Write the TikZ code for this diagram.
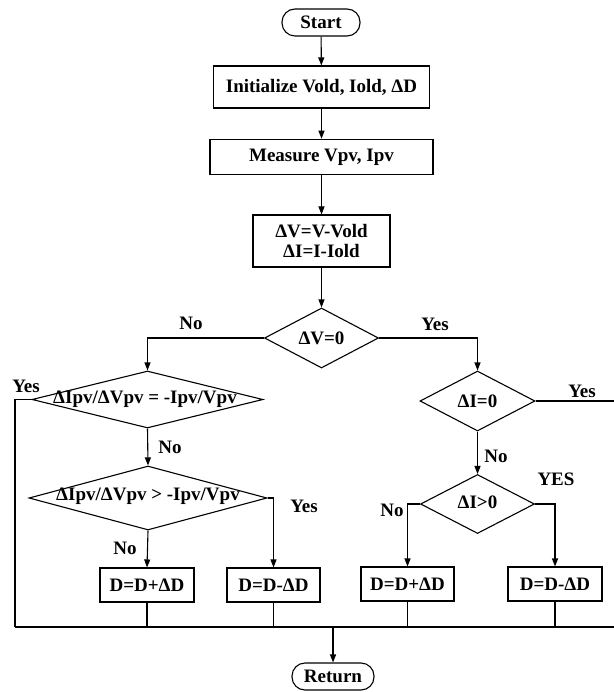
\documentclass[tikz,border=0pt]{standalone}
\usepackage{fontspec}
\setmainfont{Liberation Serif}
\usetikzlibrary{shapes.geometric,arrows.meta}
\begin{document}
\begin{tikzpicture}[x=1pt,y=-1pt,
  every node/.style={font=\fontsize{19}{22}\selectfont\bfseries},
  line/.style={line width=1.1pt},
  arr/.style={line width=1.1pt,-{Triangle[length=8pt,width=6pt]}},
  procbox/.style={draw,line width=1.1pt,rectangle,inner sep=0pt},
  termbox/.style={draw,line width=1.1pt,rectangle,rounded corners=13pt,inner sep=0pt,minimum width=78pt,minimum height=27pt},
  decbox/.style={draw,line width=1.1pt,diamond,inner sep=0pt},
  lbl/.style={inner sep=0pt}
]
\useasboundingbox (0,0) rectangle (613,692);

% terminals and processes
\node[termbox] (start) at (321,22.5) {Start};
\node[procbox,minimum width=216pt,minimum height=42pt] (init) at (321.5,87) {Initialize Vold, Iold, ΔD};
\node[procbox,minimum width=223pt,minimum height=35.5pt] (meas) at (321.5,157) {Measure Vpv, Ipv};
\node[procbox,minimum width=137pt,minimum height=52pt,align=center] (dvbox) at (321.5,241) {ΔV=V-Vold\\[-2pt]ΔI=I-Iold};

% decisions
\node[decbox,minimum width=114pt,minimum height=60pt] (dv0) at (321.5,338) {};
\node[lbl] (dv0t) at (321.5,338) {ΔV=0};
\node[decbox,minimum width=231pt,minimum height=57pt] (d1) at (147.5,399.5) {};
\node[lbl] (d1t) at (145,399.5) {ΔIpv/ΔVpv = -Ipv/Vpv};
\node[decbox,minimum width=238pt,minimum height=64pt] (d2) at (148,498) {};
\node[lbl] (d2t) at (148,496) {ΔIpv/ΔVpv > -Ipv/Vpv};
\node[decbox,minimum width=115pt,minimum height=60pt] (di0) at (477.5,401) {};
\node[lbl] (di0t) at (477.5,401) {ΔI=0};
\node[decbox,minimum width=114pt,minimum height=59pt] (dig) at (477.5,504) {};
\node[lbl] (digt) at (477.5,502) {ΔI>0};

% result boxes
\node[procbox,minimum width=94pt,minimum height=34pt] (l1) at (147,585) {D=D+ΔD};
\node[procbox,minimum width=93pt,minimum height=34pt] (l2) at (273.5,585) {D=D-ΔD};
\node[procbox,minimum width=93pt,minimum height=34pt] (r1) at (407.5,584) {D=D+ΔD};
\node[procbox,minimum width=94pt,minimum height=34pt] (r2) at (555,584) {D=D-ΔD};

\node[termbox,minimum width=82pt] (ret) at (333,676.5) {Return};

% coordinates
\coordinate (bl) at (15,627);
\coordinate (br) at (615,627);
\coordinate (bm) at (333,627);
\coordinate (c1) at (147.5,338);
\coordinate (c2) at (477.5,338);
\coordinate (c3) at (15,399.5);
\coordinate (c4) at (273.5,498);
\coordinate (c5) at (615,401);
\coordinate (c6) at (407.5,504);
\coordinate (c7) at (555,504);

% main column
\draw[arr] (start) -- (init);
\draw[arr] (init) -- (meas);
\draw[arr] (meas) -- (dvbox);
\draw[arr] (dvbox) -- (dv0);

% branches of dv0
\draw[arr] (dv0.west) -- (c1) -- (d1.north);
\draw[arr] (dv0.east) -- (c2) -- (di0.north);

% d1
\draw[line] (d1.west) -- (c3) -- (bl);
\draw[arr] (d1.south) -- (d2.north);

% d2
\draw[arr] (d2.east) -- (c4) -- (l2.north);
\draw[arr] (d2.south) -- (l1.north);

% di0 (its return path runs along the right edge of the page)
\draw[line] (di0.east) -- (c5) -- (br);
\draw[arr] (di0.south) -- (dig.north);

% dig
\draw[arr] (dig.west) -- (c6) -- (r1.north);
\draw[arr] (dig.east) -- (c7) -- (r2.north);

% merge
\draw[line] (l1.south) -- (l1.south |- bl);
\draw[line] (l2.south) -- (l2.south |- bl);
\draw[line] (r1.south) -- (r1.south |- bl);
\draw[line] (r2.south) -- (r2.south |- bl);
\draw[line] (bl) -- (br);
\draw[arr] (bm) -- (ret.north);

% labels
\node[lbl] (n1) at (191,323) {No};
\node[lbl] (y1) at (435,324) {Yes};
\node[lbl] (y2) at (26,386) {Yes};
\node[lbl] (n2) at (170,447) {No};
\node[lbl] (y3) at (304,506) {Yes};
\node[lbl] (n3) at (125,548) {No};
\node[lbl] (y4) at (582,391) {Yes};
\node[lbl] (n4) at (496,456) {No};
\node[lbl] (n5) at (392,510) {No};
\node[lbl] (y5) at (556,479) {YES};
\end{tikzpicture}
\end{document}
